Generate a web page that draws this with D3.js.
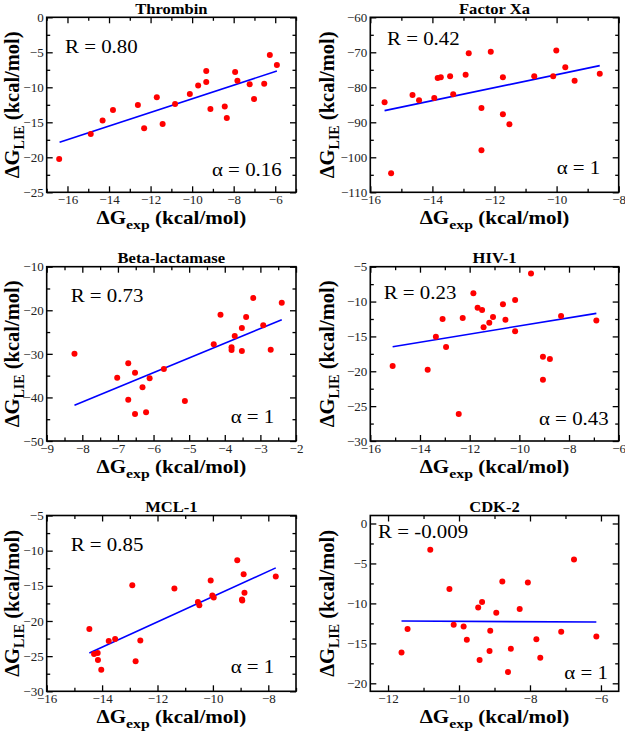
<!DOCTYPE html>
<html><head><meta charset="utf-8">
<script src="https://cdn.jsdelivr.net/npm/d3@7/dist/d3.min.js"></script>
<style>body{margin:0;background:#fff}svg{display:block}</style>
</head><body><svg id="chart" width="625" height="733"></svg>
<script>
// ---------------- data ----------------
const titles = ["Thrombin", "Factor Xa", "Beta-lactamase", "HIV-1", "MCL-1", "CDK-2"];
const rLabels = ["R = 0.80", "R = 0.42", "R = 0.73", "R = 0.23", "R = 0.85", "R = -0.009"];
const alphaLabels = ["α = 0.16", "α = 1", "α = 1", "α = 0.43", "α = 1", "α = 1"];

const thrombinX = [-16.40,-14.88,-14.31,-13.81,-12.61,-12.31,-11.70,-11.42,-10.82,-10.11,-9.71,-9.32,-9.32,-9.12,-8.43,-8.33,-7.93,-7.82,-7.23,-7.02,-6.53,-6.26,-5.92];
const thrombinY = [-20.24,-16.67,-14.76,-13.24,-12.52,-15.86,-11.43,-15.24,-12.38,-10.95,-9.76,-7.67,-9.24,-13.10,-12.76,-14.38,-7.81,-9.05,-9.57,-11.67,-9.48,-5.38,-6.81];
const thrombinFitX = [-16.38, -5.92];
const thrombinFitY = [-17.86, -7.67];

const factorXaX = [-15.54,-15.33,-14.64,-14.43,-13.94,-13.83,-13.73,-13.43,-13.33,-12.93,-12.83,-12.42,-12.42,-12.12,-11.73,-11.73,-11.52,-10.72,-10.11,-10.01,-9.72,-9.42,-8.61];
const factorXaY = [-84.29,-104.57,-82.19,-83.71,-83.05,-77.33,-77.14,-76.86,-82.0,-76.38,-70.29,-85.90,-98.0,-69.81,-77.14,-87.71,-90.57,-76.86,-76.86,-69.52,-74.29,-78.10,-76.1];
const factorXaFitX = [-15.54, -8.61];
const factorXaFitY = [-86.67, -73.81];

const betaX = [-8.22,-7.02,-6.71,-6.71,-6.52,-6.52,-6.31,-6.21,-6.11,-5.71,-5.12,-4.31,-4.12,-3.81,-3.81,-3.72,-3.52,-3.52,-3.40,-3.20,-2.92,-2.71,-2.40];
const betaY = [-29.96,-35.47,-32.18,-40.52,-34.32,-43.80,-37.69,-43.39,-35.59,-33.48,-40.82,-27.82,-21.01,-28.51,-29.12,-25.88,-24.07,-29.35,-21.55,-17.19,-23.46,-29.04,-18.26];
const betaFitX = [-8.22, -2.40];
const betaFitY = [-41.82, -22.16];

const hivX = [-15.10,-13.69,-13.36,-13.09,-12.95,-12.44,-12.28,-11.85,-11.68,-11.50,-11.44,-11.21,-11.06,-10.66,-10.56,-10.17,-10.17,-9.53,-9.05,-9.05,-8.77,-8.32,-6.90];
const hivY = [-19.24,-19.78,-15.04,-12.50,-16.51,-26.13,-12.35,-8.82,-10.88,-11.21,-13.70,-13.03,-12.22,-10.40,-12.60,-9.77,-14.27,-5.96,-17.91,-21.21,-18.24,-12.07,-12.70];
const hivFitX = [-15.10, -6.90];
const hivFitY = [-16.47, -11.69];

const mclX = [-14.46,-14.29,-14.16,-14.15,-14.03,-13.76,-13.53,-12.91,-12.79,-12.62,-11.39,-10.54,-10.49,-10.08,-10.02,-9.97,-9.12,-8.95,-8.94,-8.89,-8.86,-7.73];
const mclY = [-21.13,-24.69,-24.55,-25.54,-26.92,-22.84,-22.55,-14.91,-25.73,-22.79,-15.39,-17.29,-17.76,-14.25,-16.38,-16.67,-11.36,-16.95,-17.09,-13.35,-16.0,-13.68];
const mclFitX = [-14.46, -7.73];
const mclFitY = [-24.54, -12.45];

const cdkX = [-11.62,-11.45,-10.81,-10.27,-10.15,-9.87,-9.78,-9.46,-9.42,-9.35,-9.14,-9.12,-8.95,-8.78,-8.62,-8.54,-8.29,-8.06,-7.82,-7.71,-7.12,-6.76,-6.13];
const cdkY = [-16.13,-13.21,-3.29,-8.21,-12.67,-12.88,-14.54,-10.5,-17.08,-9.83,-15.96,-13.42,-11.17,-7.25,-18.58,-15.67,-10.71,-7.38,-14.5,-16.79,-13.54,-4.5,-14.13];
const cdkFitX = [-11.62, -6.13];
const cdkFitY = [-12.21, -12.33];

const xDomains = [[-17,-5],[-16,-8],[-9,-2],[-16,-6],[-16,-7],[-12.5,-5.5]];
const yDomains = [[-25,0],[-110,-60],[-50,-10],[-30,-5],[-30,-5],[-21,1]];
const xTickValues = [[-16,-14,-12,-10,-8,-6],[-16,-14,-12,-10,-8],[-9,-8,-7,-6,-5,-4,-3,-2],[-16,-14,-12,-10,-8,-6],[-16,-14,-12,-10,-8],[-12,-10,-8,-6]];
const yTickValues = [[0,-5,-10,-15,-20,-25],[-60,-70,-80,-90,-100,-110],[-10,-20,-30,-40,-50],[-5,-10,-15,-20,-25,-30],[-5,-10,-15,-20,-25,-30],[0,-5,-10,-15,-20]];
const xMinorSteps = [1, 1, 0.5, 1, 1, 1];
const yMinorSteps = [2.5, 5, 5, 2.5, 2.5, 2.5];

const seriesX = [thrombinX, factorXaX, betaX, hivX, mclX, cdkX];
const seriesY = [thrombinY, factorXaY, betaY, hivY, mclY, cdkY];
const fitXs = [thrombinFitX, factorXaFitX, betaFitX, hivFitX, mclFitX, cdkFitX];
const fitYs = [thrombinFitY, factorXaFitY, betaFitY, hivFitY, mclFitY, cdkFitY];

// ---------------- layout ----------------
const colLeft = [46.7, 370.3], colRight = [296, 618.7];
const rowTop = [17.3, 266.7, 515.5], rowBottom = [192.3, 441, 691.3];
const yLabelX = [19, 333.5];
const rPos = [[18.3,36],[16.7,27.7],[24,35],[13.4,32.3],[24,35.7],[7.7,22.7]];
const aPos = [[14.3,16.6],[18.4,18.3],[21.7,17.7],[10,16],[21.7,18.4],[10.7,12.7]];
const SERIF = "'Liberation Serif','Times New Roman',serif";

const svg = d3.select("#chart");
svg.append("rect").attr("width",625).attr("height",733).attr("fill","#fff");

function stretchText(g, x, y, str, size, sx, anchor, weight) {
  return g.append("text")
    .attr("transform", `translate(${x},${y}) scale(${sx},1)`)
    .attr("text-anchor", anchor)
    .attr("font-family", SERIF)
    .attr("font-size", size)
    .attr("font-weight", weight || "normal")
    .attr("fill", "#000")
    .text(str);
}

for (let i = 0; i < 6; i++) {
  const col = i % 2, row = Math.floor(i / 2);
  const L = colLeft[col], R = colRight[col], T = rowTop[row], B = rowBottom[row];
  const x = d3.scaleLinear().domain(xDomains[i]).range([L, R]);
  const y = d3.scaleLinear().domain(yDomains[i]).range([B, T]);
  const g = svg.append("g");

  const xd = xDomains[i], yd = yDomains[i];
  const xMinor = d3.range(Math.ceil(xd[0]/xMinorSteps[i])*xMinorSteps[i], xd[1]+1e-9, xMinorSteps[i])
      .filter(v => !xTickValues[i].some(t => Math.abs(t - v) < 1e-9));
  const yMinor = d3.range(Math.ceil(yd[0]/yMinorSteps[i])*yMinorSteps[i], yd[1]+1e-9, yMinorSteps[i])
      .filter(v => !yTickValues[i].some(t => Math.abs(t - v) < 1e-9));

  const styleAxis = sel => {
    sel.select(".domain").remove();
    sel.selectAll("line").attr("stroke", "#000").attr("stroke-width", 1.3);
    sel.selectAll("text").attr("font-family", SERIF).attr("font-size", 13).attr("fill", "#222");
  };
  const MAJ = 6, MIN = 3.5;
  g.append("g").attr("transform", `translate(0,${B})`)
    .call(d3.axisBottom(x).tickValues(xTickValues[i]).tickSize(-MAJ).tickSizeOuter(0).tickPadding(2.5).tickFormat(d3.format("d")))
    .call(styleAxis);
  g.append("g").attr("transform", `translate(${L},0)`)
    .call(d3.axisLeft(y).tickValues(yTickValues[i]).tickSize(-MAJ).tickSizeOuter(0).tickPadding(3).tickFormat(d3.format("d")))
    .call(styleAxis);
  g.append("g").attr("transform", `translate(0,${T})`)
    .call(d3.axisTop(x).tickValues(xTickValues[i]).tickSize(-MAJ).tickSizeOuter(0).tickFormat(""))
    .call(styleAxis);
  g.append("g").attr("transform", `translate(${R},0)`)
    .call(d3.axisRight(y).tickValues(yTickValues[i]).tickSize(-MAJ).tickSizeOuter(0).tickFormat(""))
    .call(styleAxis);
  g.append("g").attr("transform", `translate(0,${B})`)
    .call(d3.axisBottom(x).tickValues(xMinor).tickSize(-MIN).tickSizeOuter(0).tickFormat("")).call(styleAxis);
  g.append("g").attr("transform", `translate(0,${T})`)
    .call(d3.axisTop(x).tickValues(xMinor).tickSize(-MIN).tickSizeOuter(0).tickFormat("")).call(styleAxis);
  g.append("g").attr("transform", `translate(${L},0)`)
    .call(d3.axisLeft(y).tickValues(yMinor).tickSize(-MIN).tickSizeOuter(0).tickFormat("")).call(styleAxis);
  g.append("g").attr("transform", `translate(${R},0)`)
    .call(d3.axisRight(y).tickValues(yMinor).tickSize(-MIN).tickSizeOuter(0).tickFormat("")).call(styleAxis);

  g.append("rect").attr("x", L).attr("y", T).attr("width", R - L).attr("height", B - T)
    .attr("fill", "none").attr("stroke", "#000").attr("stroke-width", 1.6);

  const fitData = fitXs[i].map((v, k) => [v, fitYs[i][k]]);
  g.append("path").datum(fitData)
    .attr("d", d3.line().x(d => x(d[0])).y(d => y(d[1])))
    .attr("fill", "none").attr("stroke", "#0000ff").attr("stroke-width", 1.6);

  const pts = seriesX[i].map((v, k) => [v, seriesY[i][k]]);
  g.selectAll("circle.pt").data(pts).enter().append("circle")
    .attr("class", "pt")
    .attr("cx", d => x(d[0])).attr("cy", d => y(d[1])).attr("r", 3)
    .attr("fill", "#ff0000");

  stretchText(g, (L + R) / 2, T - 3.8, titles[i], 14.8, 1.12, "middle", "bold");

  stretchText(g, L + rPos[i][0], T + rPos[i][1], rLabels[i], 19, 1.1, "start");
  stretchText(g, R - aPos[i][0], B - aPos[i][1], alphaLabels[i], 19, 1.1, "end");

  const xl = g.append("text")
    .attr("transform", `translate(${(L + R) / 2},${B + 31.5}) scale(1.17,1)`)
    .attr("text-anchor", "middle").attr("font-family", SERIF)
    .attr("font-size", 18).attr("font-weight", "bold");
  xl.append("tspan").text("ΔG");
  xl.append("tspan").attr("font-size", 13.5).attr("dy", 5.5).text("exp");
  xl.append("tspan").attr("dy", -5.5).text(" (kcal/mol)");

  const yl = g.append("text")
    .attr("transform", `translate(${yLabelX[col]},${(T + B) / 2}) rotate(-90)`)
    .attr("text-anchor", "middle").attr("font-family", SERIF)
    .attr("font-size", 20.5).attr("font-weight", "bold");
  yl.append("tspan").text("ΔG");
  yl.append("tspan").attr("font-size", 14).attr("dy", 5).text("LIE");
  yl.append("tspan").attr("dy", -5).text(" (kcal/mol)");
}
</script></body></html>
